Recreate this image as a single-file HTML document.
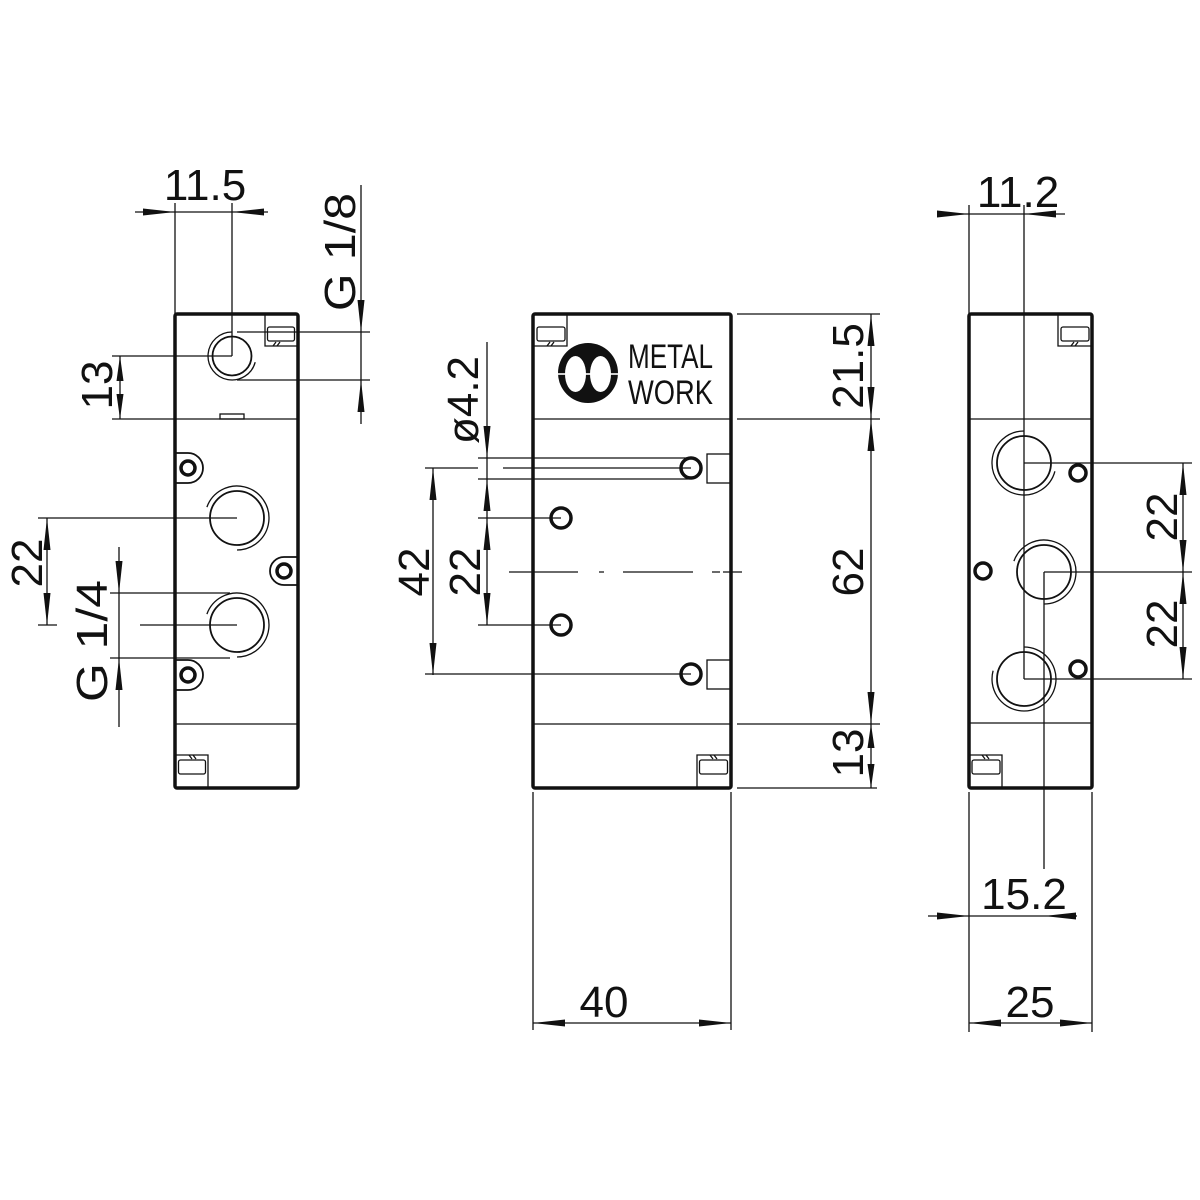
<!DOCTYPE html>
<html><head><meta charset="utf-8"><style>
html,body{margin:0;padding:0;background:#fff;}
svg{display:block;}
text{font-family:"Liberation Sans",sans-serif;fill:#111;}
</style></head><body>
<svg width="1200" height="1200" viewBox="0 0 1200 1200" xmlns="http://www.w3.org/2000/svg">
<g fill="none" stroke="#111" stroke-width="1.3" stroke-linecap="butt">
<!-- ===== LEFT VIEW thin lines ===== -->
<line x1="175" y1="203" x2="175" y2="314"/>
<line x1="232" y1="203" x2="232" y2="356"/>
<line x1="135" y1="212" x2="268" y2="212"/>
<line x1="237" y1="332" x2="370" y2="332"/>
<line x1="237" y1="380" x2="370" y2="380"/>
<line x1="361" y1="185" x2="361" y2="424"/>
<line x1="112" y1="356" x2="232" y2="356"/>
<line x1="112" y1="419" x2="298" y2="419"/>
<line x1="120" y1="356" x2="120" y2="419"/>
<line x1="38" y1="518" x2="237" y2="518"/>
<line x1="38" y1="625" x2="57" y2="625"/>
<line x1="140" y1="625" x2="237" y2="625"/>
<line x1="47" y1="518" x2="47" y2="625"/>
<line x1="110" y1="593" x2="230" y2="593"/>
<line x1="110" y1="658" x2="230" y2="658"/>
<line x1="119" y1="547" x2="119" y2="727"/>
<line x1="175" y1="724" x2="298" y2="724"/>
<!-- small port -->
<circle cx="232" cy="356" r="19.5" stroke-width="1.8"/>
<path d="M232,332 A24,24 0 1 0 255.2,362.2"/>
<!-- big ports -->
<circle cx="237" cy="518" r="27" stroke-width="1.8"/>
<path d="M206.9,507.1 A32,32 0 1 1 237,550"/>
<circle cx="237" cy="625" r="27" stroke-width="1.8"/>
<path d="M206.9,614.1 A32,32 0 1 1 237,657"/>
<!-- bosses -->
<path d="M175,453 H188 A15,15 0 0 1 188,483 H175" stroke-width="1.8"/>
<path d="M175,660 H188 A15,15 0 0 1 188,690 H175" stroke-width="1.8"/>
<path d="M298,557 H284 A14,14 0 0 0 284,585 H298" stroke-width="1.8"/>
<!-- tab -->
<rect x="220" y="414" width="24" height="5"/>
<!-- small rects -->
<path d="M265,314 V346 H298"/>
<rect x="267.5" y="327" width="27" height="14" rx="2"/>
<path d="M273,346 L276,342 M277,346 L280,342"/>
<path d="M175,755 H208 V788"/>
<rect x="178.5" y="760" width="27" height="14" rx="2"/>
<path d="M189,755 L192,759 M193,755 L196,759"/>

<!-- ===== MIDDLE VIEW thin lines ===== -->
<line x1="533" y1="419" x2="731" y2="419"/>
<line x1="533" y1="724" x2="731" y2="724"/>
<line x1="478" y1="458" x2="690" y2="458"/>
<line x1="478" y1="479" x2="690" y2="479"/>
<line x1="425" y1="468" x2="478" y2="468"/>
<line x1="503" y1="468" x2="691" y2="468"/>
<line x1="478" y1="518" x2="561" y2="518"/>
<line x1="478" y1="625" x2="561" y2="625"/>
<line x1="425" y1="674" x2="691" y2="674"/>
<line x1="487" y1="342" x2="487" y2="625"/>
<line x1="433" y1="468" x2="433" y2="675"/>
<path d="M509,572 H578 M599,572 H604 M623,572 H693 M712,572 H720 M723,572 H742"/>
<line x1="737" y1="314" x2="880" y2="314"/>
<line x1="737" y1="419" x2="880" y2="419"/>
<line x1="737" y1="724" x2="880" y2="724"/>
<line x1="737" y1="788" x2="877" y2="788"/>
<line x1="871" y1="314" x2="871" y2="788"/>
<line x1="533" y1="792" x2="533" y2="1030"/>
<line x1="731" y1="792" x2="731" y2="1030"/>
<line x1="533" y1="1023" x2="731" y2="1023"/>
<rect x="707" y="454" width="24" height="29"/>
<rect x="707" y="660" width="24" height="29"/>
<path d="M567,314 V346 H533"/>
<rect x="537" y="327" width="28" height="14" rx="2"/>
<path d="M547,346 L550,342 M551,346 L554,342"/>
<path d="M731,755 H697 V788"/>
<rect x="699.5" y="760" width="28" height="14" rx="2"/>
<path d="M710,755 L713,759 M714,755 L717,759"/>

<!-- ===== RIGHT VIEW thin lines ===== -->
<line x1="969" y1="205" x2="969" y2="314"/>
<line x1="1024" y1="205" x2="1024" y2="679"/>
<line x1="937" y1="214" x2="1065" y2="214"/>
<line x1="969" y1="419" x2="1092" y2="419"/>
<line x1="969" y1="723" x2="1092" y2="723"/>
<line x1="1024" y1="463" x2="1192" y2="463"/>
<line x1="1044" y1="572" x2="1192" y2="572"/>
<line x1="1024" y1="679" x2="1192" y2="679"/>
<line x1="1183" y1="463" x2="1183" y2="679"/>
<line x1="1044" y1="572" x2="1044" y2="869"/>
<line x1="969" y1="792" x2="969" y2="1032"/>
<line x1="1092" y1="792" x2="1092" y2="1032"/>
<line x1="928" y1="916" x2="1077" y2="916"/>
<line x1="969" y1="1023" x2="1092" y2="1023"/>
<circle cx="1024" cy="463" r="27" stroke-width="1.8"/>
<path d="M1024,431 A32,32 0 1 0 1054.9,471.3"/>
<circle cx="1044" cy="572" r="27" stroke-width="1.8"/>
<path d="M1013.9,561.1 A32,32 0 1 1 1044,604"/>
<circle cx="1024" cy="679" r="27" stroke-width="1.8"/>
<path d="M1024,647 A32,32 0 1 1 993.1,670.7"/>
<path d="M1058,314 V346 H1092"/>
<rect x="1061" y="327" width="28" height="14" rx="2"/>
<path d="M1071,346 L1074,342 M1075,346 L1078,342"/>
<path d="M969,755 H1002 V788"/>
<rect x="972" y="760" width="28" height="14" rx="2"/>
<path d="M982,755 L985,759 M986,755 L989,759"/>
</g>

<!-- thick outlines & holes -->
<g fill="none" stroke="#111" stroke-width="3.5" stroke-linejoin="round">
<rect x="175" y="314" width="123" height="474" rx="2"/>
<rect x="533" y="314" width="198" height="474" rx="2"/>
<rect x="969" y="314" width="123" height="474" rx="2"/>
<circle cx="188" cy="468" r="7"/>
<circle cx="188" cy="675" r="7"/>
<circle cx="284" cy="571" r="7"/>
<circle cx="691" cy="468" r="10"/>
<circle cx="561" cy="518" r="10"/>
<circle cx="561" cy="625" r="10"/>
<circle cx="691" cy="674" r="10"/>
<circle cx="1078" cy="473" r="8"/>
<circle cx="983" cy="571" r="8"/>
<circle cx="1078" cy="669" r="8"/>
</g>

<!-- logo -->
<circle cx="588" cy="373" r="30" fill="#111"/>
<ellipse cx="575.5" cy="374" rx="10.5" ry="18" fill="#fff"/>
<ellipse cx="600.5" cy="374" rx="10.5" ry="18" fill="#fff"/>
<rect x="556" y="373.2" width="64" height="1.6" fill="#fff"/>
<text x="628" y="368" font-size="34" textLength="85" lengthAdjust="spacingAndGlyphs">METAL</text>
<text x="628" y="404" font-size="34" textLength="85" lengthAdjust="spacingAndGlyphs">WORK</text>

<!-- arrowheads -->
<g fill="#111" stroke="none">
<polygon points="175,212 143,208.5 143,215.5"/>
<polygon points="232,212 264,208.5 264,215.5"/>
<polygon points="969,214 937,210.5 937,217.5"/>
<polygon points="1024,214 1056,210.5 1056,217.5"/>
<polygon points="969,916 937,912.5 937,919.5"/>
<polygon points="1044,916 1076,912.5 1076,919.5"/>
<polygon points="533,1023 565,1019.5 565,1026.5"/>
<polygon points="731,1023 699,1019.5 699,1026.5"/>
<polygon points="969,1023 1001,1019.5 1001,1026.5"/>
<polygon points="1092,1023 1060,1019.5 1060,1026.5"/>
<!-- vertical -->
<polygon points="361,332 357.5,300 364.5,300"/>
<polygon points="361,380 357.5,412 364.5,412"/>
<polygon points="120,356 116.5,381 123.5,381"/>
<polygon points="120,419 116.5,394 123.5,394"/>
<polygon points="47,518 43.5,550 50.5,550"/>
<polygon points="47,625 43.5,593 50.5,593"/>
<polygon points="119,593 115.5,561 122.5,561"/>
<polygon points="119,658 115.5,690 122.5,690"/>
<polygon points="487,458 483.5,426 490.5,426"/>
<polygon points="487,479 483.5,511 490.5,511"/>
<polygon points="487,518 483.5,550 490.5,550"/>
<polygon points="487,625 483.5,593 490.5,593"/>
<polygon points="433,468 429.5,500 436.5,500"/>
<polygon points="433,675 429.5,643 436.5,643"/>
<polygon points="871,314 867.5,346 874.5,346"/>
<polygon points="871,419 867.5,387 874.5,387"/>
<polygon points="871,419 867.5,451 874.5,451"/>
<polygon points="871,724 867.5,692 874.5,692"/>
<polygon points="871,724 867.5,748 874.5,748"/>
<polygon points="871,788 867.5,764 874.5,764"/>
<polygon points="1183,463 1179.5,495 1186.5,495"/>
<polygon points="1183,572 1179.5,540 1186.5,540"/>
<polygon points="1183,572 1179.5,604 1186.5,604"/>
<polygon points="1183,679 1179.5,647 1186.5,647"/>
</g>

<!-- dimension texts -->
<g font-size="44" text-anchor="middle">
<text x="205" y="200">11.5</text>
<text x="1018" y="207">11.2</text>
<text x="1024" y="909">15.2</text>
<text x="604" y="1017">40</text>
<text x="1030" y="1017">25</text>
<text transform="translate(355,252) rotate(-90)" textLength="118" lengthAdjust="spacingAndGlyphs">G 1/8</text>
<text transform="translate(112,385) rotate(-90)">13</text>
<text transform="translate(42,563) rotate(-90)">22</text>
<text transform="translate(107,641) rotate(-90)" textLength="122" lengthAdjust="spacingAndGlyphs">G 1/4</text>
<text transform="translate(478,400) rotate(-90)">ø4.2</text>
<text transform="translate(480,572) rotate(-90)">22</text>
<text transform="translate(429,572) rotate(-90)">42</text>
<text transform="translate(863,366) rotate(-90)">21.5</text>
<text transform="translate(863,572) rotate(-90)">62</text>
<text transform="translate(863,753) rotate(-90)">13</text>
<text transform="translate(1177,517) rotate(-90)">22</text>
<text transform="translate(1177,624) rotate(-90)">22</text>
</g>
</svg>
</body></html>
